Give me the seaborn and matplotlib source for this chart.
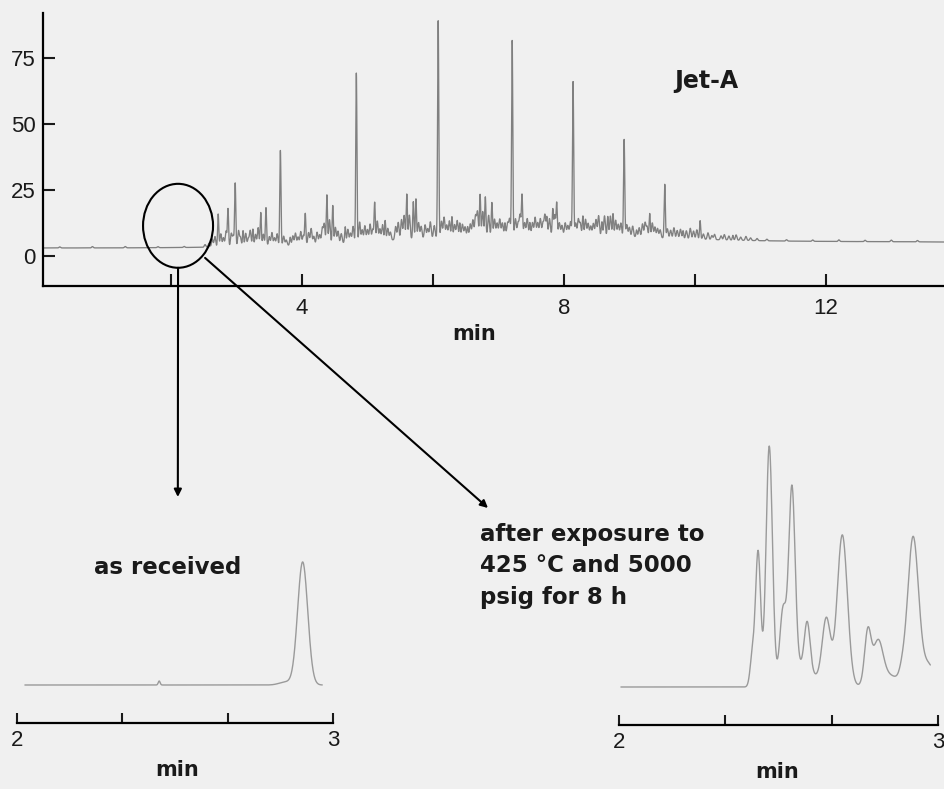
import numpy as np
import matplotlib
matplotlib.use("Agg")
import matplotlib.pyplot as plt
import seaborn as sns
from matplotlib.patches import Ellipse

# ---------------- Jet-A full chromatogram ----------------
# resolved peaks: retention time (min) and height above baseline
peak_time = [2.72, 2.87, 2.98, 3.10, 3.25, 3.37, 3.45, 3.67, 3.82, 4.05,
             4.38, 4.47, 4.66, 4.83, 5.11, 5.27, 5.60, 5.70, 5.74, 6.08,
             6.29, 6.41, 6.53, 6.72, 6.80, 6.90, 7.10, 7.21, 7.36, 7.48,
             7.74, 7.83, 7.89, 8.14, 8.29, 8.58, 8.67, 8.75, 8.92, 9.11,
             9.31, 9.54, 9.82, 10.08, 10.58]
peak_height = [12.5, 14.3, 24.0, 6.0, 6.5, 12.7, 14.5, 36.0, 3.0, 11.7,
               18.4, 14.3, 6.0, 64.0, 14.5, 7.5, 17.0, 14.0, 15.0, 82.0,
               7.5, 5.0, 3.5, 15.5, 14.5, 12.3, 4.5, 73.5, 15.0, 4.5,
               6.5, 9.5, 12.0, 58.0, 7.2, 5.2, 7.3, 8.4, 36.7, 2.6,
               9.0, 20.3, 3.0, 7.0, 1.8]

# low-level unresolved components
minor_time = [0.30, 0.80, 1.30, 1.80, 2.20,
              2.52, 2.58, 2.63, 2.67, 2.76, 2.80, 2.84, 2.92, 2.95,
              3.03, 3.06, 3.14, 3.18, 3.21, 3.29, 3.33, 3.41, 3.50, 3.54,
              3.58, 3.62, 3.72, 3.76, 3.86, 3.90, 3.94, 3.98,
              4.02, 4.10, 4.14, 4.18, 4.23, 4.27, 4.31, 4.34, 4.42, 4.51,
              4.55, 4.60, 4.70, 4.74, 4.78, 4.88, 4.92, 4.96,
              5.00, 5.04, 5.08, 5.15, 5.19, 5.23, 5.31, 5.35, 5.43, 5.47,
              5.52, 5.56, 5.64, 5.78, 5.82, 5.88, 5.92, 5.96, 6.02,
              6.13, 6.17, 6.21, 6.25, 6.33, 6.37, 6.45, 6.49, 6.57, 6.61,
              6.65, 6.68, 6.76, 6.85, 6.94, 6.98, 7.02, 7.06,
              7.14, 7.17, 7.26, 7.30, 7.33, 7.40, 7.44, 7.52, 7.56, 7.60,
              7.64, 7.68, 7.71, 7.78, 7.86, 7.93, 7.97, 8.02, 8.06, 8.10,
              8.18, 8.22, 8.25, 8.33, 8.37, 8.41, 8.45, 8.49, 8.53, 8.62,
              8.71, 8.79, 8.83, 8.87, 8.96, 9.00,
              9.05, 9.15, 9.20, 9.24, 9.27, 9.35, 9.39, 9.43, 9.47, 9.58,
              9.63, 9.68, 9.73, 9.78, 9.87, 9.93, 9.98, 10.03,
              10.13, 10.20, 10.26, 10.30, 10.40, 10.45, 10.52, 10.63, 10.70,
              10.78, 10.85, 10.95,
              11.10, 11.40, 11.80, 12.20, 12.60, 13.00, 13.40]
minor_height = [0.4, 0.5, 0.5, 0.4, 0.4,
                1.0, 1.5, 3.0, 4.0, 5.0, 3.5, 6.0, 5.0, 4.0,
                6.0, 3.5, 5.0, 3.0, 6.0, 4.5, 7.0, 4.5, 3.5, 5.0,
                3.0, 4.5, 3.5, 2.0, 3.5, 4.5, 3.0, 5.0,
                3.5, 4.5, 6.0, 3.0, 4.5, 3.5, 6.0, 7.5, 9.0, 6.0,
                4.5, 3.5, 5.0, 3.5, 6.0, 7.5, 4.5, 6.0,
                4.5, 6.5, 4.5, 7.5, 4.5, 6.0, 4.5, 3.0, 5.0, 6.5,
                7.5, 9.0, 9.0, 6.0, 4.5, 5.0, 3.5, 6.0, 4.5,
                6.0, 7.5, 4.5, 6.0, 4.5, 6.0, 4.5, 3.5, 4.5, 6.0,
                7.5, 9.0, 9.0, 7.5, 6.0, 4.5, 6.0, 4.5,
                4.5, 6.0, 6.0, 4.5, 7.5, 4.5, 6.0, 4.5, 6.5, 4.5,
                6.0, 4.5, 7.5, 6.0, 7.5, 4.5, 3.5, 4.5, 3.5, 5.0,
                4.5, 6.0, 4.5, 6.0, 4.5, 3.5, 4.5, 6.0, 7.5, 7.5,
                7.5, 6.0, 4.5, 5.0, 4.5, 3.5,
                4.0, 3.5, 5.0, 5.5, 4.0, 5.5, 4.0, 3.5, 3.0, 3.5,
                3.0, 4.0, 3.0, 3.5, 3.0, 4.0, 3.0, 3.5,
                2.0, 2.5, 1.5, 2.0, 1.5, 2.0, 1.5, 2.0, 1.2,
                1.5, 1.0, 0.8,
                0.6, 0.5, 0.5, 0.6, 0.5, 0.6, 0.5]

# baseline drift: detector offset plus broad unresolved humps
baseline_offset = 3.0
hump_time = [7.3, 13.0]
hump_height = [4.5, 2.3]
hump_width = [2.0, 3.5]

# ---------------- 2-3 min window, as received ----------------
recv_time = [2.45, 2.85, 2.904]
recv_height = [4.0, 3.0, 123.0]
recv_width = [0.003, 0.02, 0.016]

# ---------------- 2-3 min window, after 425 °C / 5000 psig ----------------
exp_time = [2.418, 2.436, 2.471, 2.514, 2.542, 2.570, 2.590, 2.650, 2.700,
            2.780, 2.812, 2.840, 2.888, 2.922, 2.970]
exp_height = [30, 135, 240, 70, 185, 20, 48, 66, 152,
              52, 38, 12, 8, 148, 22]
exp_width = [0.007, 0.008, 0.010, 0.010, 0.010, 0.040, 0.009, 0.013, 0.016,
             0.010, 0.015, 0.040, 0.009, 0.017, 0.020]

main_xticks = [2, 4, 6, 8, 10, 12]
main_xlabels = ["", "4", "", "8", "", "12"]
main_yticks = [0, 25, 50, 75]
win_ticks = [2, 2 + 1 / 3, 2 + 2 / 3, 3]
win_labels = ["2", "", "", "3"]


def peaks(t, centres, heights, widths):
    out = np.zeros_like(t)
    for c, h, w in zip(centres, heights, widths):
        out += h * np.exp(-0.5 * ((t - c) / w) ** 2)
    return out


sns.set_style("white")
BG = "#f0f0f0"
plt.rcParams["font.family"] = ["Liberation Sans Narrow", "Liberation Sans", "DejaVu Sans"]
TRACE = "#808080"
BOLD = dict(family=["DejaVu Sans"], weight="bold", color="#1a1a1a")

W, H = 945, 789
fig = plt.figure(figsize=(W / 100, H / 100), dpi=100, facecolor=BG)


def px_axes(left, top, right, bottom):
    return fig.add_axes([left / W, 1 - bottom / H, (right - left) / W, (bottom - top) / H])


# ---- main chromatogram ----
t = np.arange(0.05, 13.82, 0.002)
signal = (baseline_offset
          + peaks(t, hump_time, hump_height, hump_width)
          + peaks(t, peak_time, peak_height, [0.009] * len(peak_time))
          + peaks(t, minor_time, minor_height, [0.012] * len(minor_time)))

ax = px_axes(42.7, 13, W, 286)
ax.set_facecolor(BG)
sns.lineplot(x=t, y=signal, ax=ax, color=TRACE, linewidth=0.95, estimator=None)
ax.set_xlim(0.04, 13.82)
ax.set_ylim(-11.4, 92)
ax.set_xticks(main_xticks)
ax.set_xticklabels(main_xlabels)
ax.set_yticks(main_yticks)
for s in ["top", "right"]:
    ax.spines[s].set_visible(False)
for s in ["left", "bottom"]:
    ax.spines[s].set_linewidth(1.6)
    ax.spines[s].set_color("black")
ax.tick_params(axis="both", direction="in", length=8.5, width=1.5, labelsize=16,
               colors="#1a1a1a", bottom=True, left=True)
ax.tick_params(axis="x", pad=9)
ax.tick_params(axis="y", pad=5)
ax.set_xlabel("min", fontsize=15, **BOLD)
ax.xaxis.label.set_va("center")
ax.xaxis.set_label_coords(0.478, -0.176)
ax.set_ylabel("")
ax.text(10.18, 66.3, "Jet-A", ha="center", va="center", fontsize=17, **BOLD)


# ---- 2-3 min windows ----
def window(left, right, axis_y, tgrid, centres, heights, widths, lab_x):
    a = px_axes(left, axis_y - 300, right, axis_y)
    a.set_facecolor("none")
    y = peaks(tgrid, centres, heights, widths)
    sns.lineplot(x=tgrid, y=y, ax=a, color="#9a9a9a", linewidth=1.0, estimator=None)
    a.set_xlim(2, 3)
    a.set_ylim(-38, 262)
    a.set_xticks(win_ticks)
    a.set_xticklabels(win_labels)
    a.set_yticks([])
    for s in ["top", "right", "left"]:
        a.spines[s].set_visible(False)
    a.spines["bottom"].set_linewidth(1.6)
    a.spines["bottom"].set_color("black")
    a.tick_params(axis="x", direction="in", length=7.5, width=1.5, labelsize=16, pad=5,
                  colors="#1a1a1a", bottom=True)
    a.set_xlabel("min", fontsize=15, **BOLD)
    a.xaxis.label.set_va("center")
    a.xaxis.set_label_coords(lab_x, -0.157)
    a.set_ylabel("")
    return a


ax_recv = window(17, 333, 723, np.arange(2.025, 2.966, 0.001),
                 recv_time, recv_height, recv_width, 0.506)
ax_exp = window(619, 938, 725, np.arange(2.006, 2.976, 0.001),
                exp_time, exp_height, exp_width, 0.495)

ax_recv.text(2.478, 118, "as received", ha="center", va="center", fontsize=16.5, **BOLD)
fig.text(480 / W, 1 - 566 / H, "after exposure to\n425 °C and 5000\npsig for 8 h",
         ha="left", va="center", fontsize=16.5, linespacing=1.45, **BOLD)

# ---- magnifier circle and arrows ----
ax.add_patch(Ellipse((2.107, 11.4), 1.069, 31.8, fill=False, lw=1.5,
                     ec="black", clip_on=False, zorder=5))
arrow = dict(arrowstyle="-|>", lw=1.5, color="black", mutation_scale=11,
             shrinkA=0, shrinkB=0)
ax.annotate("", xy=(2.509, 188), xycoords=ax_recv.transData,
            xytext=(2.107, -4.5), textcoords="data",
            arrowprops=arrow, annotation_clip=False)
ax.annotate("", xy=(488 / W, 1 - 508 / H), xycoords="figure fraction",
            xytext=(2.52, -0.76), textcoords="data",
            arrowprops=arrow, annotation_clip=False)

fig.savefig("out.png", dpi=100, facecolor=BG)
